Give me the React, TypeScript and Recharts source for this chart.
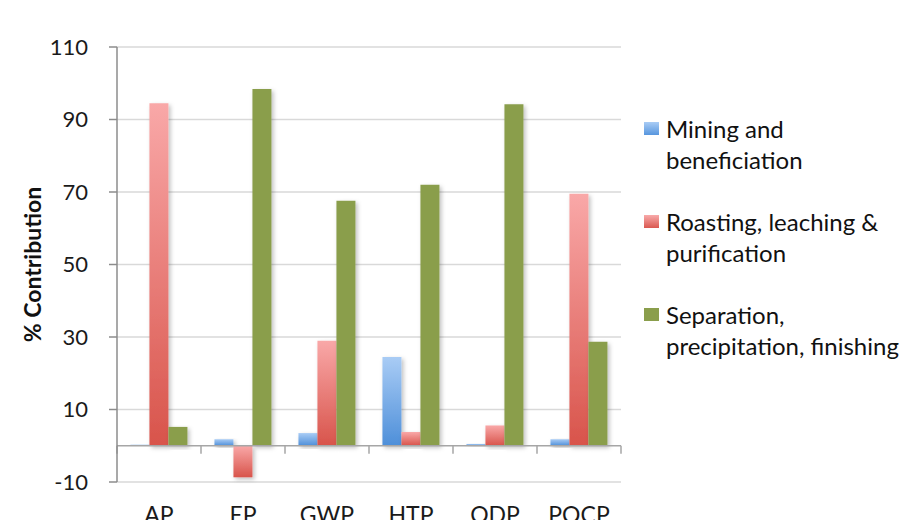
import { Bar, BarChart, CartesianGrid, Legend, ReferenceLine, XAxis, YAxis } from 'recharts';

const categories = ['AP', 'EP', 'GWP', 'HTP', 'ODP', 'POCP'];
const mining = [0.3, 1.8, 3.5, 24.5, 0.5, 1.8];
const roasting = [94.5, -8.7, 29, 3.8, 5.6, 69.5];
const separation = [5.2, 98.4, 67.6, 72, 94.2, 28.7];
const seriesNames = [
  'Mining and\nbeneficiation',
  'Roasting, leaching &\npurification',
  'Separation,\nprecipitation, finishing',
];
const yTicks = [-10, 10, 30, 50, 70, 90, 110];

const data = categories.map((category, i) => ({
  category,
  mining: mining[i],
  roasting: roasting[i],
  separation: separation[i],
}));

const FONT = 'Lato, "Open Sans", sans-serif';
const LEGEND_W = 266;
const swatches = [
  'linear-gradient(#a9ccf5, #5796de)',
  'linear-gradient(#f8aaaa, #da5850)',
  '#8a9e4c',
];

// zero line with category boundary tick marks hanging below it
function ZeroAxis(props: any) {
  const { x1, y1, x2 } = props;
  const n = categories.length;
  const step = (x2 - x1) / n;
  return (
    <g>
      <line x1={x1} y1={y1} x2={x2} y2={y1} stroke="#a6a6a6" strokeWidth={1.5} />
      {Array.from({ length: n + 1 }, (_, k) => (
        <line key={k} x1={x1 + step * k} y1={y1} x2={x1 + step * k} y2={y1 + 8} stroke="#a6a6a6" strokeWidth={1.5} />
      ))}
    </g>
  );
}

function SideLegend(props: any) {
  const { payload = [] } = props;
  return (
    <div style={{ fontFamily: FONT, fontSize: 24, color: '#111' }}>
      {payload.map((entry: any, i: number) => (
        <div key={entry.value} style={{ display: 'flex', alignItems: 'flex-start', marginBottom: 31 }}>
          <span style={{ width: 15, height: 13, marginTop: 9, marginRight: 7, background: swatches[i], flex: 'none' }} />
          <span style={{ whiteSpace: 'pre-line', lineHeight: '31px' }}>{entry.value}</span>
        </div>
      ))}
    </div>
  );
}

export default function App() {
  return (
    <div style={{ position: 'absolute', left: 0, top: 0, background: '#fff', fontFamily: FONT }}>
      <BarChart
        width={910}
        height={520}
        data={data}
        margin={{ top: 47, right: 289 - LEGEND_W, bottom: 0, left: 0 }}
        barCategoryGap="16%"
        barGap={0}
        style={{ fontFamily: FONT }}
      >
        <defs>
          <linearGradient id="gradBlue" x1="0" y1="0" x2="0" y2="1">
            <stop offset="0%" stopColor="#a9ccf5" />
            <stop offset="100%" stopColor="#4e8fd9" />
          </linearGradient>
          <linearGradient id="gradRed" x1="0" y1="0" x2="0" y2="1">
            <stop offset="0%" stopColor="#f9a8a8" />
            <stop offset="100%" stopColor="#d8544b" />
          </linearGradient>
          <filter id="barShadow" x="-30%" y="-10%" width="160%" height="130%">
            <feDropShadow dx="2" dy="2" stdDeviation="2" floodColor="#000" floodOpacity="0.25" />
          </filter>
        </defs>
        <CartesianGrid vertical={false} stroke="#d9d9d9" strokeWidth={1.5} />
        <XAxis
          dataKey="category"
          height={38}
          axisLine={false}
          tickLine={false}
          tickSize={0}
          tickMargin={25}
          tick={{ fontSize: 23, fill: '#1a1a1a' }}
        />
        <YAxis
          domain={[-10, 110]}
          ticks={yTicks}
          width={117}
          tickSize={8}
          tickMargin={21}
          axisLine={{ stroke: '#8c8c8c', strokeWidth: 1.5 }}
          tickLine={{ stroke: '#8c8c8c', strokeWidth: 1.5 }}
          tick={{ fontSize: 22, fill: '#1a1a1a' }}
          label={{
            value: '% Contribution',
            angle: -90,
            position: 'insideLeft',
            offset: 33,
            style: { textAnchor: 'middle', fontWeight: 700, fontSize: 23, fill: '#111' },
          }}
        />
        <Legend
          layout="vertical"
          verticalAlign="top"
          align="right"
          content={SideLegend}
          wrapperStyle={{ left: 644, top: 113, width: LEGEND_W }}
        />
        <Bar dataKey="mining" name={seriesNames[0]} fill="url(#gradBlue)" filter="url(#barShadow)" isAnimationActive={false} />
        <Bar dataKey="roasting" name={seriesNames[1]} fill="url(#gradRed)" filter="url(#barShadow)" isAnimationActive={false} />
        <Bar dataKey="separation" name={seriesNames[2]} fill="#8a9e4c" filter="url(#barShadow)" isAnimationActive={false} />
        <ReferenceLine y={0} shape={ZeroAxis} />
      </BarChart>
    </div>
  );
}
